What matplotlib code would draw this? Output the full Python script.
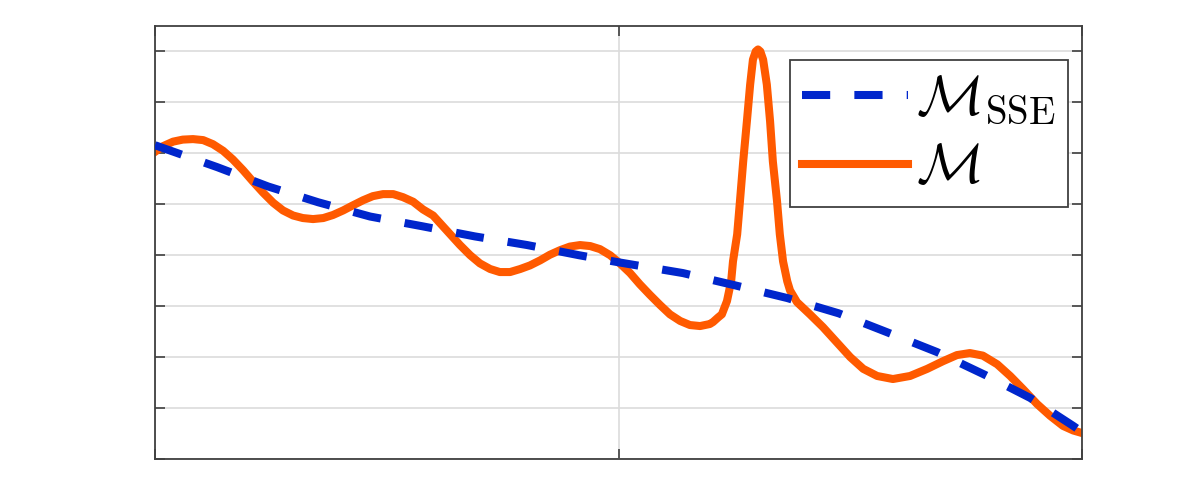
import matplotlib
matplotlib.use("Agg")
from matplotlib import pyplot as plt

plt.rcParams['mathtext.fontset'] = 'cm'

# fitted (SSE) curve
x_sse = [0.0, 0.134, 0.244, 0.352, 0.464, 0.576, 0.690, 0.803, 0.915, 1.001,
         1.139, 1.251, 1.364, 1.475, 1.579, 1.687, 1.791, 1.888, 1.981, 2.0]
y_sse = [6.16, 5.73, 5.35, 5.04, 4.76, 4.57, 4.37, 4.20, 4.00, 3.86,
         3.65, 3.41, 3.16, 2.86, 2.49, 2.10, 1.65, 1.20, 0.65, 0.53]

# measured curve with the spike
x_m = [0.000, 0.017, 0.039, 0.060, 0.082, 0.104, 0.125, 0.147, 0.168, 0.190,
       0.211, 0.233, 0.255, 0.276, 0.298, 0.319, 0.341, 0.363, 0.384, 0.406,
       0.427, 0.449, 0.470, 0.492, 0.514, 0.535, 0.557, 0.578, 0.600, 0.615,
       0.637, 0.658, 0.680, 0.701, 0.723, 0.744, 0.766, 0.788, 0.809, 0.831,
       0.852, 0.874, 0.895, 0.917, 0.939, 0.960, 0.982, 1.003, 1.025, 1.046,
       1.068, 1.090, 1.111, 1.133, 1.154, 1.176, 1.197, 1.204, 1.215, 1.223,
       1.234, 1.243, 1.247, 1.256, 1.262, 1.269, 1.277, 1.284, 1.290, 1.296,
       1.301, 1.306, 1.312, 1.320, 1.327, 1.333, 1.342, 1.348, 1.355, 1.364,
       1.370, 1.385, 1.413, 1.441, 1.471, 1.500, 1.528, 1.558, 1.592, 1.629,
       1.666, 1.700, 1.730, 1.758, 1.786, 1.817, 1.845, 1.873, 1.903, 1.931,
       1.959, 1.981, 2.000]
y_m = [6.03, 6.14, 6.23, 6.27, 6.28, 6.26, 6.18, 6.05, 5.88, 5.67,
       5.45, 5.23, 5.03, 4.88, 4.78, 4.73, 4.71, 4.73, 4.79, 4.88,
       4.98, 5.08, 5.16, 5.20, 5.20, 5.14, 5.05, 4.90, 4.78, 4.63,
       4.41, 4.20, 4.00, 3.84, 3.73, 3.67, 3.67, 3.73, 3.80, 3.90,
       4.01, 4.10, 4.17, 4.20, 4.18, 4.12, 4.00, 3.84, 3.65, 3.43,
       3.22, 3.02, 2.84, 2.71, 2.63, 2.61, 2.65, 2.69, 2.78, 2.84,
       3.10, 3.49, 3.88, 4.41, 5.06, 5.84, 6.63, 7.35, 7.84, 8.00,
       8.04, 8.00, 7.84, 7.35, 6.63, 5.84, 5.06, 4.41, 3.88, 3.49,
       3.31, 3.08, 2.84, 2.59, 2.29, 2.00, 1.77, 1.63, 1.57, 1.63,
       1.77, 1.92, 2.04, 2.08, 2.03, 1.86, 1.63, 1.37, 1.08, 0.85,
       0.65, 0.56, 0.51]

x_ticks = [0, 1, 2]
y_ticks = [0, 1, 2, 3, 4, 5, 6, 7, 8]

blue = '#0026CC'
orange = '#FF5A00'
dark = '#404040'

fig = plt.figure(figsize=(11.96, 5.01), dpi=100)
ax = fig.add_axes([0.1296, 0.0838, 0.7751, 0.8643])

ax.plot(x_sse, y_sse, color=blue, lw=5.8, dashes=(3.5, 3.0),
        dash_capstyle='butt', label=r'$\mathcal{M}_{\mathrm{SSE}}$', zorder=3)
ax.plot(x_m, y_m, color=orange, lw=5.8, solid_joinstyle='round',
        label=r'$\mathcal{M}$', zorder=2)

ax.set_xlim(0, 2)
ax.set_ylim(0, 8.5)
ax.set_xticks(x_ticks)
ax.set_yticks(y_ticks)
ax.set_xticklabels([])
ax.set_yticklabels([])
ax.tick_params(direction='in', length=7, width=1.2, color=dark,
               top=True, right=True)
ax.grid(True, color='#DCDCDC', lw=1.2)
ax.set_axisbelow(True)
for s in ax.spines.values():
    s.set_color(dark)
    s.set_linewidth(1.3)

leg = ax.legend(loc='upper right', bbox_to_anchor=(1068 / 1196, 441 / 501),
                bbox_transform=fig.transFigure, borderaxespad=0,
                fontsize=40, fancybox=False, framealpha=1,
                handlelength=1.9, handletextpad=0.15, labelspacing=0.27,
                borderpad=0.22)
leg.get_frame().set_edgecolor(dark)
leg.get_frame().set_linewidth(1.3)

fig.savefig('out.png', dpi=100)
